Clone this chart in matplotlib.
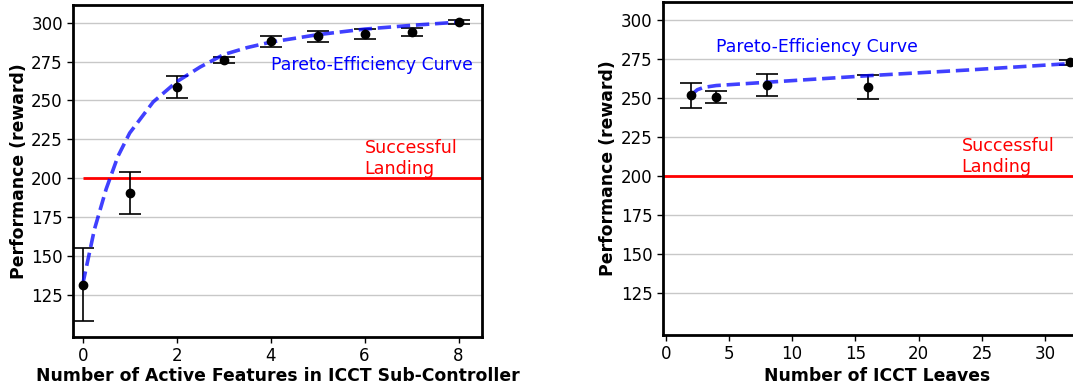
import matplotlib
matplotlib.use("Agg")
import matplotlib.pyplot as plt

# Left panel: number of active features in the sub-controller
feat_x = [0, 1, 2, 3, 4, 5, 6, 7, 8]
feat_mean = [131.5, 190.4, 258.5, 275.8, 288.0, 291.2, 292.7, 293.8, 300.4]
feat_err = [23.5, 13.8, 7.0, 1.9, 3.7, 3.3, 3.2, 2.5, 1.2]

# Pareto curve
feat_curve_x = [0, 0.25, 0.5, 0.75, 1, 1.5, 2, 2.5, 3, 3.5, 4, 5, 6, 7, 8]
feat_curve_y = [131.5, 167, 193, 214, 229, 249, 262, 271.5, 279.5, 284, 287.5, 292.3, 295.9, 298.3, 300.4]

# Right panel: number of ICCT leaves
leaf_x = [2, 4, 8, 16, 32]
leaf_mean = [251.5, 250.2, 258.1, 256.6, 272.5]
leaf_err = [8.0, 3.7, 6.8, 7.8, 1.6]

leaf_curve_x = [2, 2.5, 3, 4, 8, 16, 24, 32]
leaf_curve_y = [251.5, 255, 256.5, 257.7, 259.8, 264, 267.7, 271.8]

success_level = 200
yticks = [125, 150, 175, 200, 225, 250, 275, 300]

fig = plt.figure(figsize=(10.73, 3.89), dpi=100)
ax1 = fig.add_axes([0.0683, 0.1344, 0.381, 0.8527])
ax2 = fig.add_axes([0.618, 0.1388, 0.3985, 0.8568])


def style(ax):
    ax.set_yticks(yticks)
    ax.set_ylim(97.9, 311.4)
    ax.yaxis.grid(True, color="#c8c8c8", linewidth=1)
    ax.set_axisbelow(True)
    for s in ax.spines.values():
        s.set_linewidth(2)
    ax.tick_params(labelsize=12, length=4, width=1)
    ax.set_ylabel("Performance (reward)", fontsize=12.4, fontweight="bold", labelpad=2.5)


# left
ax1.hlines(success_level, 0, 9, color="red", linewidth=2)
ax1.errorbar(feat_x, feat_mean, yerr=feat_err, fmt="o", color="black",
             markersize=6, capsize=8, elinewidth=1.2, capthick=1.2)
ax1.plot(feat_curve_x, feat_curve_y, "--", color="blue", alpha=0.75, linewidth=2.6)
ax1.text(4, 269.5, "Pareto-Efficiency Curve", color="blue", fontsize=12.4)
ax1.text(6, 200, "Successful\nLanding", color="red", fontsize=12.6, va="bottom")
ax1.set_xlim(-0.2, 8.5)
ax1.set_xticks([0, 2, 4, 6, 8])
ax1.set_xlabel("Number of Active Features in ICCT Sub-Controller", fontsize=12.4,
               fontweight="bold", labelpad=1.5)
style(ax1)

# right
ax2.axhline(success_level, color="red", linewidth=2)
ax2.errorbar(leaf_x, leaf_mean, yerr=leaf_err, fmt="o", color="black",
             markersize=6, capsize=8, elinewidth=1.2, capthick=1.2)
ax2.plot(leaf_curve_x, leaf_curve_y, "--", color="blue", alpha=0.75, linewidth=2.6)
ax2.text(4, 279, "Pareto-Efficiency Curve", color="blue", fontsize=12.4)
ax2.text(23.4, 200, "Successful\nLanding", color="red", fontsize=12.6, va="bottom")
ax2.set_xlim(-0.2, 33.6)
ax2.set_xticks([0, 5, 10, 15, 20, 25, 30])
ax2.set_xlabel("Number of ICCT Leaves", fontsize=12.4, fontweight="bold", labelpad=2.5)
style(ax2)

fig.savefig("out.png", dpi=100)
